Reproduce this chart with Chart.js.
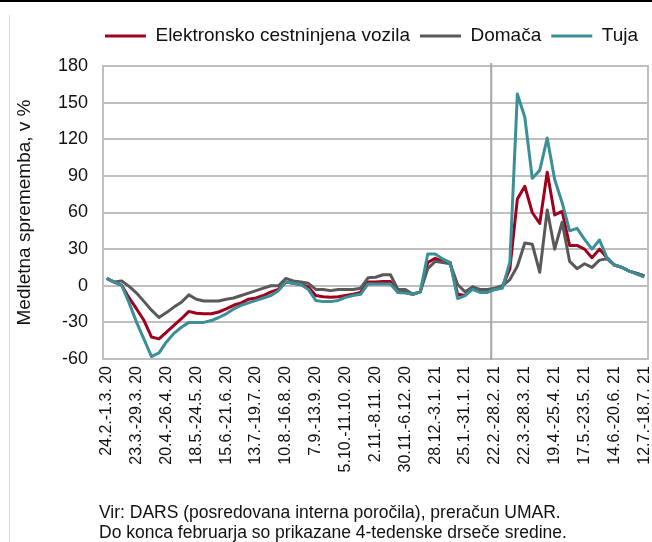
<!DOCTYPE html>
<html lang="sl">
<head>
<meta charset="utf-8">
<title>Medletna sprememba prometa</title>
<script src="https://cdn.jsdelivr.net/npm/chart.js@4.4.1/dist/chart.umd.min.js"></script>
<style>
  html, body { margin: 0; padding: 0; background: #fff; }
  #wrap { position: relative; width: 652px; height: 542px; overflow: hidden; }
  #chart { position: absolute; left: 0; top: 0; }
  .topline { position: absolute; left: 0; top: 0; width: 652px; height: 2px; background: #000; }
  .leftline { position: absolute; left: 9px; top: 15px; width: 1px; height: 527px; background: #dcdcdc; }
  .note { position: absolute; left: 99px; font: 17.5px "Liberation Sans", Arial, sans-serif; line-height: 20px; color: #111; white-space: nowrap; }
</style>
</head>
<body>
<div id="wrap">
  <canvas id="chart" width="652" height="542"></canvas>
  <div class="topline"></div>
  <div class="leftline"></div>
  <div class="note" style="top: 502px">Vir: DARS (posredovana interna poročila), preračun UMAR.</div>
  <div class="note" style="top: 522px">Do konca februarja so prikazane 4-tedenske drseče sredine.</div>
</div>
<script>
// tedenski podatki, 24.2.2020 - 18.7.2021
const tickLabels = [
  '24.2.-1.3. 20', '23.3.-29.3. 20', '20.4.-26.4. 20', '18.5.-24.5. 20', '15.6.-21.6. 20',
  '13.7.-19.7. 20', '10.8.-16.8. 20', '7.9.-13.9. 20', '5.10.-11.10. 20', '2.11.-8.11. 20',
  '30.11.-6.12. 20', '28.12.-3.1. 21', '25.1.-31.1. 21', '22.2.-28.2. 21', '22.3.-28.3. 21',
  '19.4.-25.4. 21', '17.5.-23.5. 21', '14.6.-20.6. 21', '12.7.-18.7. 21'
];
const labelStep = 4;
const breakIndex = 52; // od tedna 22.2.-28.2. 21 naprej ni vec drsecih sredin

const elektronsko = [
  6, 3, 0.5, -10, -19, -28.5, -42, -43.5, -38, -32.5,
  -27, -21, -22.5, -23, -23, -21.5, -19, -16, -14, -11,
  -10, -8, -5, -3, 3, 2, 1, -1, -8, -9,
  -9.5, -9, -8, -7, -5.5, 3, 3, 3.5, 3.5, -5.5,
  -5.5, -7, -5, 19, 22.5, 20, 19, -7, -8, -1,
  -4, -4.5, -3, -0.5, 14, 71, 81.5, 60, 51, 93,
  58, 61, 33, 33, 30, 23, 30, 23, 17, 15,
  12, 10, 8
];
const domaca = [
  6, 3, 4, -0.5, -6, -13, -20, -26, -22, -17.5,
  -13.5, -7.5, -11, -12.5, -12.5, -12.5, -11, -10, -8, -6,
  -4, -2, 0, 0, 6, 4, 3, 2, -3, -3,
  -4, -3, -3, -3, -2, 6.5, 7, 9, 9, -3,
  -3, -7, -5, 14, 20, 19, 18, 1, -5, -1,
  -3, -3, -2, 0, 5, 16, 35, 34, 11, 62,
  30, 52, 20, 14, 18, 15, 21, 22, 17, 15,
  12, 10, 8
];
const tuja = [
  6, 3, 0.5, -14, -30, -44, -58, -55, -46, -39,
  -34, -30, -30, -30, -28.5, -26, -23, -19, -16, -14,
  -12, -10, -8, -4, 3, 2, 1, -3, -12, -13,
  -13, -12, -9.5, -8, -7, 1.5, 1.5, 1.5, 1.5, -5.5,
  -6, -7, -5, 26, 26, 22, 19, -10.5, -8, -3,
  -5.5, -5.5, -3, -2, 19.5, 157, 138, 88, 94.5, 121,
  87, 68, 45, 47, 38, 30, 37.5, 23, 17, 15,
  12, 9.5, 7
];

const start = Date.UTC(2020, 1, 24);
const day = 864e5;
const categories = elektronsko.map((_, i) => {
  const a = new Date(start + i * 7 * day), b = new Date(start + (i * 7 + 6) * day);
  return `${a.getUTCDate()}.${a.getUTCMonth() + 1}.-${b.getUTCDate()}.${b.getUTCMonth() + 1}. ${String(b.getUTCFullYear()).slice(2)}`;
});

Chart.defaults.font.family = '"Liberation Sans", Arial, sans-serif';
Chart.defaults.color = '#111';

// vec prostora pod legendo
const legendSpace = {
  id: 'legendSpace',
  beforeInit(chart) {
    const fit = chart.legend.fit;
    chart.legend.fit = function () { fit.call(this); this.height += 10.5; };
  }
};

const frame = {
  id: 'frame',
  beforeDatasetsDraw(chart) {
    const {ctx, chartArea: a, scales: {x}} = chart;
    ctx.save();
    ctx.strokeStyle = '#bfbfbf';
    ctx.lineWidth = 2;
    ctx.strokeRect(a.left, a.top, a.right - a.left, a.bottom - a.top);
    const mx = (x.getPixelForValue(breakIndex - 1) + x.getPixelForValue(breakIndex)) / 2;
    ctx.strokeStyle = '#a6a6a6';
    ctx.beginPath();
    ctx.moveTo(mx, a.top - 3);
    ctx.lineTo(mx, a.bottom + 1);
    ctx.stroke();
    ctx.restore();
  }
};

const line = (label, data, color, order) => ({
  label, data, order,
  borderColor: color, backgroundColor: color,
  borderWidth: 3, pointRadius: 0, tension: 0, fill: false,
  borderJoinStyle: 'round'
});

new Chart(document.getElementById('chart'), {
  type: 'line',
  data: {
    labels: categories,
    datasets: [
      line('Elektronsko cestninjena vozila', elektronsko, '#a0001e', 3),
      line('Domača', domaca, '#595959', 2),
      line('Tuja', tuja, '#3b8f97', 1)
    ]
  },
  options: {
    responsive: false,
    animation: false,
    layout: { padding: { left: 0, right: 4, top: 16.5, bottom: 0 } },
    plugins: {
      legend: {
        position: 'top',
        align: 'end',
        labels: {
          usePointStyle: true, pointStyle: 'line', pointStyleWidth: 41,
          padding: 10, font: { size: 19 },
          sort: (a, b) => a.datasetIndex - b.datasetIndex
        }
      },
      tooltip: { enabled: false }
    },
    scales: {
      x: {
        offset: true,
        grid: { display: false, drawTicks: false },
        border: { display: false },
        ticks: {
          autoSkip: false, minRotation: 90, maxRotation: 90, padding: 7,
          font: { size: 16 },
          callback: (v, i) => i % labelStep === 0 ? tickLabels[i / labelStep] : ''
        },
        afterFit(s) { s.height = 183; s.paddingLeft = 0; s.paddingRight = 0; }
      },
      y: {
        min: -60, max: 180,
        grid: { color: '#bfbfbf', lineWidth: 2, drawTicks: false },
        border: { display: false },
        ticks: { stepSize: 30, padding: 15, font: { size: 18 } },
        title: {
          display: true, text: 'Medletna sprememba, v %',
          font: { size: 19 }, padding: { top: 13, bottom: 0 }
        },
        afterFit(s) { s.width = 103; }
      }
    }
  },
  plugins: [legendSpace, frame]
});
</script>
</body>
</html>
